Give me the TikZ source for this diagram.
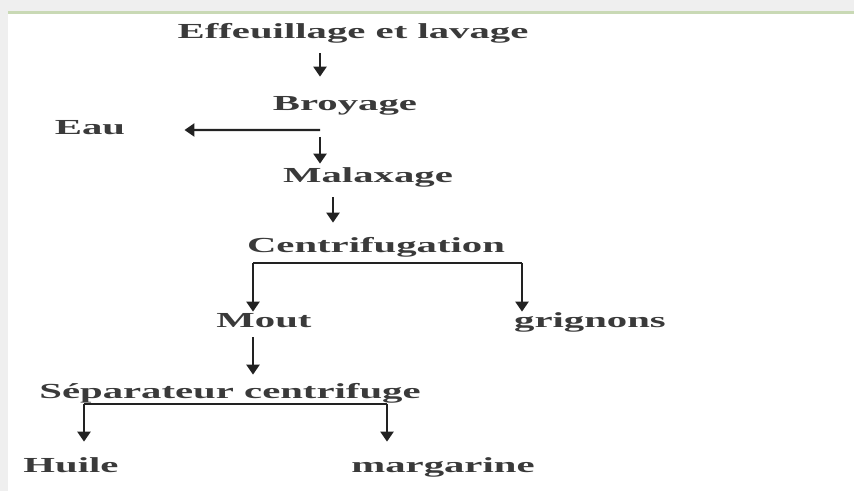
\documentclass[tikz,border=0pt]{standalone}
\usepackage{fontspec}
\setmainfont{Liberation Serif}[FakeStretch=1.9]
\usepackage{tikz}
\usetikzlibrary{arrows.meta, positioning, calc}
\definecolor{FrameGray}{HTML}{EFEFEF}
\definecolor{FrameGreen}{HTML}{C9D9B5}
\definecolor{StepInk}{HTML}{3A3A3A}
\definecolor{LinkInk}{HTML}{222222}

\begin{document}
\begin{tikzpicture}[
    stepname/.style={
      anchor=base, inner sep=0pt, text=StepInk,
      text height=0.28cm, text depth=0.08cm,
      font=\fontsize{12.2pt}{14pt}\selectfont\bfseries,
    },
    bar/.style={draw=LinkInk, line width=1.3pt},
    flow/.style={
      bar, -{Triangle[length=0.2cm, width=0.26cm]}
    },
  ]
    % page frame
    \useasboundingbox (0,0) rectangle (17.08,-9.82);
    \fill[white] (0,0) rectangle (17.08,-9.82);
    \fill[FrameGray] (0,0) rectangle (17.08,-0.22);
    \fill[FrameGray] (0,0) rectangle (0.16,-9.82);
    \fill[FrameGreen] (0.16,-0.22) rectangle (17.08,-0.29);

    \node[stepname] (eff) at (7.06,-0.78) {Effeuillage et lavage};
    \node[stepname] (broy) at (6.90,-2.22) {Broyage};
    \node[stepname] (eau) at (1.80,-2.70) {Eau};
    \node[stepname] (malax) at (7.36,-3.66) {Malaxage};
    \node[stepname] (cent) at (7.52,-5.06) {Centrifugation};
    \node[stepname] (mout) at (5.28,-6.56) {Mout};
    \node[stepname] (grig) at (11.80,-6.56) {grignons};
    \node[stepname] (sep) at (4.60,-7.96) {Séparateur centrifuge};
    \node[stepname] (huile) at (1.42,-9.44) {Huile};
    \node[stepname] (marg) at (8.86,-9.44) {margarine};

    \coordinate (split) at (6.40,-2.60);
    \coordinate (mid) at (6.66,-4.20);
    \coordinate (bus1l) at (5.06,-5.26);
    \coordinate (bus1r) at (10.44,-5.26);
    \coordinate (bus2l) at (1.68,-8.08);
    \coordinate (bus2r) at (7.74,-8.08);

    \draw[flow, shorten <=0.2cm, shorten >=0.4cm] (eff.south -| split) -- (broy.north -| split);
    \draw[flow, shorten >=1.18cm] (split) -- (eau.east);
    \draw[flow, shorten <=0.14cm, shorten >=0.1cm] (split) -- (malax.north -| split);
    \draw[flow, shorten <=0.2cm, shorten >=0.32cm] (malax.south -| mid) -- (cent.north -| mid);

    \draw[bar] (bus1l) -- (bus1r);
    \draw[flow, shorten >=0.04cm] (bus1l) -- (mout.north -| bus1l);
    \draw[flow, shorten >=0.04cm] (bus1r) -- (grig.north -| bus1r);

    \draw[flow, shorten <=0.1cm, shorten >=0.18cm] (mout.south -| bus1l) -- (sep.north -| bus1l);

    \draw[bar] (bus2l) -- (bus2r);
    \draw[flow, shorten >=0.32cm] (bus2l) -- (huile.north -| bus2l);
    \draw[flow, shorten >=0.32cm] (bus2r) -- (marg.north -| bus2r);
\end{tikzpicture}
\end{document}
